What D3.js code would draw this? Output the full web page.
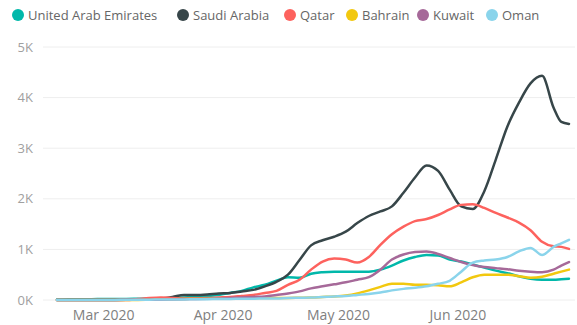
<!DOCTYPE html>
<html>
<head>
<meta charset="utf-8">
<script src="https://cdn.jsdelivr.net/npm/d3@7"></script>
<style>
  html, body { margin: 0; padding: 0; background: #fff; }
  svg { display: block; font-family: "Open Sans", "Segoe UI", sans-serif; }
</style>
</head>
<body>
<svg id="chart" width="577" height="325"></svg>
<script>
// Daily new cases (rolling), GCC countries, Feb–Jun 2020
const dates = [
  "2020-02-18","2020-02-21","2020-02-24","2020-02-27","2020-03-01","2020-03-04",
  "2020-03-07","2020-03-10","2020-03-13","2020-03-16","2020-03-19","2020-03-22",
  "2020-03-25","2020-03-28","2020-03-31","2020-04-03","2020-04-06","2020-04-09",
  "2020-04-12","2020-04-15","2020-04-18","2020-04-21","2020-04-24","2020-04-27",
  "2020-04-30","2020-05-03","2020-05-06","2020-05-09","2020-05-12","2020-05-15",
  "2020-05-18","2020-05-21","2020-05-24","2020-05-27","2020-05-30","2020-06-02",
  "2020-06-05","2020-06-08","2020-06-11","2020-06-14","2020-06-17","2020-06-20",
  "2020-06-23","2020-06-26","2020-06-28","2020-06-30"
];

const countries = ["United Arab Emirates", "Saudi Arabia", "Qatar", "Bahrain", "Kuwait", "Oman"];
const colors = ["#01B8AA", "#374649", "#FD625E", "#F2C80F", "#A66999", "#8AD4EB"];

const uae = [10,15,15,15,20,20,20,25,30,30,40,50,60,80,100,140,180,250,300,380,450,440,520,550,
  560,560,560,560,600,680,780,850,890,880,800,760,700,640,580,530,470,420,400,400,410,420];
const saudi = [0,0,0,0,0,2,3,5,15,30,60,100,100,110,130,140,170,200,270,360,500,790,1080,1180,
  1250,1350,1520,1660,1750,1850,2120,2420,2660,2550,2180,1850,1800,2150,2780,3430,3900,4280,
  4430,3800,3520,3480];
const qatar = [0,0,0,0,0,0,0,20,40,50,40,30,35,40,50,60,80,100,140,180,300,400,600,760,
  820,800,740,850,1090,1300,1450,1560,1600,1680,1790,1880,1890,1820,1720,1630,1530,1380,
  1150,1060,1050,1010];
const bahrain = [0,0,0,0,0,0,0,0,5,10,15,20,25,30,30,30,35,35,40,40,40,45,50,60,
  70,90,130,190,260,320,320,300,300,290,270,350,450,500,500,500,470,440,460,520,560,600];
const kuwait = [0,0,0,0,0,2,3,5,5,5,10,15,20,25,30,40,50,60,70,100,130,170,230,270,
  310,350,400,450,600,800,900,950,960,910,830,750,690,650,630,610,580,560,550,600,680,750];
const oman = [0,0,0,0,0,0,5,5,5,10,10,10,15,15,20,20,25,25,30,30,40,45,50,60,
  70,80,100,120,150,190,220,240,270,320,380,560,740,780,800,850,960,1030,890,1050,1120,1190];

const yTicks = [0, 1000, 2000, 3000, 4000, 5000];
const monthTicks = ["2020-03-01", "2020-04-01", "2020-05-01", "2020-06-01"];

const seriesValues = [uae, saudi, qatar, bahrain, kuwait, oman];

const parse = d3.utcParse("%Y-%m-%d");
const series = countries.map((name, i) => ({
  name,
  color: colors[i],
  points: dates.map((d, j) => ({ date: parse(d), value: seriesValues[i][j] }))
}));

const svg = d3.select("#chart");

const x = d3.scaleUtc()
  .domain([parse("2020-02-18"), parse("2020-06-30")])
  .range([57, 569]);
const y = d3.scaleLinear().domain([0, 5000]).range([300, 47]);

// horizontal gridlines
svg.append("g")
  .selectAll("line")
  .data(yTicks)
  .join("line")
  .attr("x1", 43).attr("x2", 575)
  .attr("y1", d => y(d)).attr("y2", d => y(d))
  .attr("stroke", "#eeeeee")
  .attr("stroke-width", 1);

// y axis labels
const yAxis = d3.axisLeft(y)
  .tickValues(yTicks)
  .tickFormat(d => (d / 1000) + "K")
  .tickSize(0)
  .tickPadding(0);
svg.append("g")
  .attr("transform", "translate(33,0)")
  .call(yAxis)
  .call(g => g.select(".domain").remove())
  .call(g => g.selectAll("text")
    .attr("fill", "#a0a0a0")
    .style("font-size", "13px")
    .style("font-family", "'Open Sans', sans-serif"));

// x axis labels
const xAxis = d3.axisBottom(x)
  .tickValues(monthTicks.map(parse))
  .tickFormat(d3.utcFormat("%b %Y"))
  .tickSize(0)
  .tickPadding(0);
svg.append("g")
  .attr("transform", "translate(0,310)")
  .call(xAxis)
  .call(g => g.select(".domain").remove())
  .call(g => g.selectAll("text")
    .attr("fill", "#808080")
    .style("font-size", "14px")
    .style("font-family", "'Open Sans', sans-serif"));

// series lines
const line = d3.line()
  .x(d => x(d.date))
  .y(d => y(d.value))
  .curve(d3.curveMonotoneX);

svg.append("g")
  .selectAll("path")
  .data(series)
  .join("path")
  .attr("d", d => line(d.points))
  .attr("fill", "none")
  .attr("stroke", d => d.color)
  .attr("stroke-width", 2.5)
  .attr("stroke-linejoin", "round")
  .attr("stroke-linecap", "round");

// legend
const legendX = [18, 183, 290, 352, 423, 492];
const legend = svg.append("g")
  .selectAll("g")
  .data(series)
  .join("g")
  .attr("transform", (d, i) => `translate(${legendX[i]},15)`);
legend.append("circle")
  .attr("r", 6)
  .attr("fill", d => d.color);
legend.append("text")
  .attr("x", 10)
  .attr("dy", "0.35em")
  .attr("fill", "#666")
  .style("font-size", "13px")
  .text(d => d.name);
</script>
</body>
</html>
